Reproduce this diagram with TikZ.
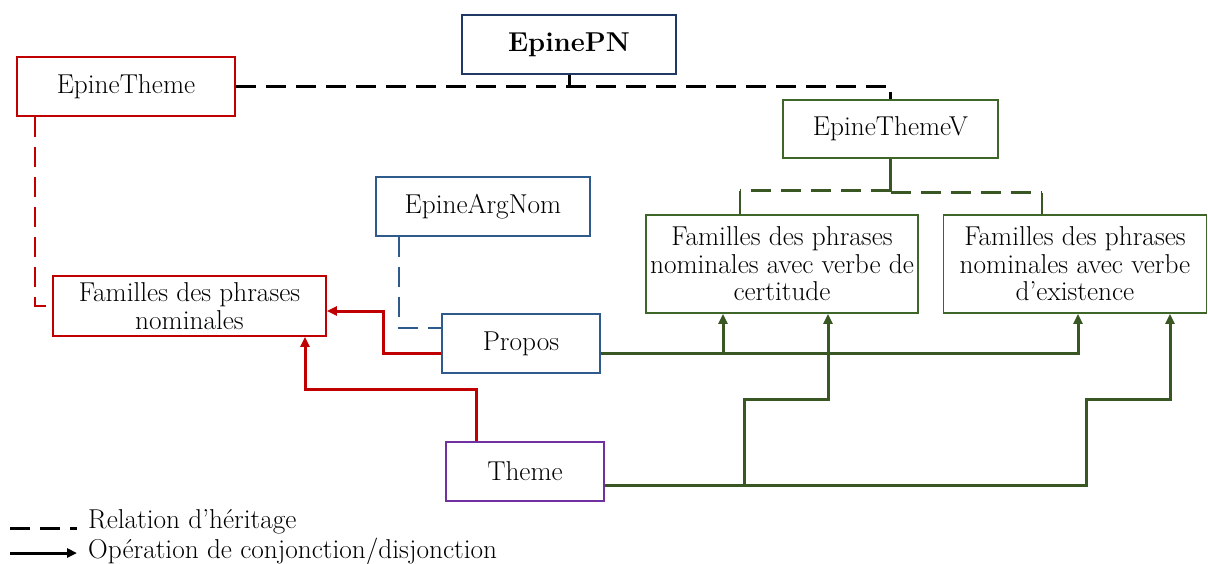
\documentclass[tikz,border=0pt]{standalone}
\usetikzlibrary{arrows.meta,calc}
\definecolor{cred}{HTML}{C00000}
\definecolor{cnavy}{HTML}{1F3864}
\definecolor{cblue}{HTML}{2E5B8C}
\definecolor{cgreen}{HTML}{385723}
\definecolor{cgbox}{HTML}{3F6629}
\definecolor{cpurple}{HTML}{7030A0}
\begin{document}
\begin{tikzpicture}[x=1pt,y=-1pt,
  font=\fontsize{27.3}{27.5}\selectfont,
  box/.style={draw,line width=1.8pt,fill=white,inner sep=0pt,align=center},
  herit/.style={line width=3pt,dash pattern=on 20pt off 10pt},
  conj/.style={line width=3pt},
  tip/.style={-{Triangle[length=10pt,width=9pt]}}]
\useasboundingbox (0,0) rectangle (1208,563);
% nodes
\node[box,draw=cnavy,minimum width=214pt,minimum height=59pt] (pn) at (569,44.5) {\bfseries EpinePN};
\node[box,draw=cred,minimum width=218pt,minimum height=59pt] (et) at (126,86.5) {EpineTheme};
\node[box,draw=cgbox,minimum width=215pt,minimum height=58pt] (etv) at (890.5,129) {EpineThemeV};
\node[box,draw=cblue,minimum width=214pt,minimum height=59pt] (ean) at (483,206.5) {EpineArgNom};
\node[box,draw=cgbox,minimum width=272pt,minimum height=98pt] (cert) at (782,264) {Familles des phrases\\nominales avec verbe de\\certitude};
\node[box,draw=cgbox,minimum width=263pt,minimum height=98pt] (exist) at (1075,264) {Familles des phrases\\nominales avec verbe\\d'existence};
\node[box,draw=cred,minimum width=273pt,minimum height=60pt] (fam) at (189.5,306) {Familles des phrases\\nominales};
\node[box,draw=cblue,minimum width=158pt,minimum height=59pt] (propos) at (521,343.5) {Propos};
\node[box,draw=cpurple,minimum width=158pt,minimum height=59pt] (th) at (525,471.5) {Theme};
% inheritance (black)
\draw[herit] (et.east) -- (etv.north |- et.east) -- (etv.north);
\draw[line width=3pt] (pn.south) -- (pn.south |- et.east);
% inheritance (red)
\draw[herit,cred,line width=2.6pt] ([xshift=19pt]et.south west) |- (fam.west);
% inheritance (blue)
\draw[herit,cblue,line width=2.6pt] ([xshift=24pt]ean.south west) |- ([yshift=15.5pt]propos.west);
% inheritance (green)
\draw[conj,cgreen] (etv.south) -- ++(0,32) coordinate (gj);
\coordinate (gjl) at ([xshift=-42pt]cert.north |- gj);
\coordinate (gjr) at ($([xshift=-33pt]exist.north |- gj)+(0,2)$);
\draw[herit,cgreen] (gj) -- (gjl);
\draw[herit,cgreen] ($(gj)+(0,2)$) -- (gjr);
\draw[line width=2.6pt,cgreen] (gjl) -- ([xshift=-42pt]cert.north);
\draw[line width=2.6pt,cgreen] (gjr) -- ([xshift=-33pt]exist.north);
% conjunction (red)
\draw[conj,cred,tip] ([yshift=-10pt]propos.west) -- ++(-58,0) |- ([yshift=-5pt]fam.east);
\draw[conj,cred,tip] ([xshift=-49pt]th.north) -- ++(0,-52) -| ([xshift=115.5pt]fam.south);
% conjunction (green) from Propos
\coordinate (pe) at ([yshift=-9.5pt]propos.east);
\draw[conj,cgreen,tip] (pe) -| ([xshift=3pt]exist.south);
\draw[conj,cgreen,tip] ([xshift=-59pt]cert.south |- pe) -- ([xshift=-59pt]cert.south);
% conjunction (green) from Theme
\coordinate (te) at ([yshift=-13.5pt]th.east);
\coordinate (s1) at (744,399);
\coordinate (s2) at (1086,399);
\draw[conj,cgreen,tip] (te) -| (s1) -| ([xshift=46pt]cert.south);
\draw[conj,cgreen,tip] (te) -| (s2) -| ([xshift=95pt]exist.south);
% legend
\coordinate (la) at (10,528);
\coordinate (lb) at (77,528);
\coordinate (lc) at (10,553);
\coordinate (ld) at (77,553);
\draw[herit] (la) -- (lb);
\draw[conj,tip] (lc) -- (ld);
\node[anchor=base west,inner sep=0pt] (lt1) at (88,528) {Relation d'héritage};
\node[anchor=base west,inner sep=0pt] (lt2) at (88,558) {Opération de conjonction/disjonction};
\end{tikzpicture}
\end{document}
